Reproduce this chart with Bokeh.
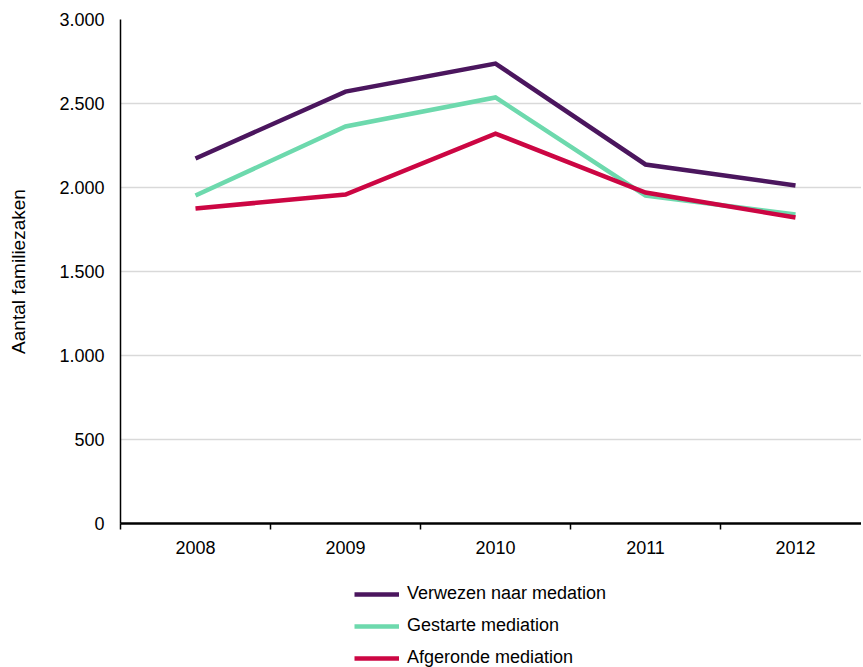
from bokeh.plotting import figure
from bokeh.layouts import column
from bokeh.models import Range1d, FixedTicker, Legend, LegendItem
from bokeh.embed import file_html
from bokeh.resources import INLINE

years = [2008, 2009, 2010, 2011, 2012]
verwezen = [2173, 2571, 2738, 2137, 2012]
gestarte = [1952, 2363, 2536, 1952, 1839]
afgeronde = [1875, 1958, 2321, 1970, 1821]
series_names = ["Verwezen naar medation", "Gestarte mediation", "Afgeronde mediation"]
colors = ["#4B165E", "#6DD9AD", "#CC0643"]
y_ticks = [0, 500, 1000, 1500, 2000, 2500, 3000]
y_tick_labels = ["0", "500", "1.000", "1.500", "2.000", "2.500", "3.000"]

FONT = "Liberation Sans"
all_series = [verwezen, gestarte, afgeronde]

p = figure(frame_width=741, frame_height=504, output_backend="svg", toolbar_location=None,
           x_range=Range1d(years[0] - 0.5, years[0] - 0.5 + 741 / 150),
           y_range=Range1d(0, 3000),
           min_border_left=120, min_border_right=0, min_border_top=19, min_border_bottom=52)
p.outline_line_color = None
p.background_fill_color = "white"
p.border_fill_color = "white"

for vals, c in zip(all_series, colors):
    p.line(years, vals, line_color=c, line_width=4.5, line_join="miter")

# x axis
xa = p.xaxis[0]
xa.ticker = FixedTicker(ticks=years, minor_ticks=[y - 0.5 for y in years] + [years[-1] + 0.5])
xa.major_tick_out = 0
xa.major_tick_in = 0
xa.minor_tick_out = 6
xa.minor_tick_in = 0
xa.minor_tick_line_color = "black"
xa.minor_tick_line_width = 1.5
xa.axis_line_color = "black"
xa.axis_line_width = 2.5
xa.major_label_text_font = FONT
xa.major_label_text_font_size = "18px"
xa.major_label_text_color = "black"
xa.major_label_standoff = 11
p.xgrid.grid_line_color = None

# y axis
ya = p.yaxis[0]
ya.ticker = FixedTicker(ticks=y_ticks)
ya.major_label_overrides = {t: l for t, l in zip(y_ticks, y_tick_labels)}
ya.major_tick_out = 0
ya.major_tick_in = 0
ya.minor_tick_out = 0
ya.minor_tick_in = 0
ya.axis_line_color = "black"
ya.axis_line_width = 1.5
ya.major_label_text_font = FONT
ya.major_label_text_font_size = "18px"
ya.major_label_text_color = "black"
ya.major_label_standoff = 16
ya.axis_label = "Aantal familiezaken"
ya.axis_label_text_font = FONT
ya.axis_label_text_font_size = "19px"
ya.axis_label_text_font_style = "normal"
ya.axis_label_text_color = "black"
ya.axis_label_standoff = 27
p.ygrid.grid_line_color = "#D9D9D9"
p.ygrid.grid_line_width = 1.5

# legend panel below the chart (its lines lie outside its visible range; only the legend shows)
lp = figure(width=861, height=93, output_backend="svg", toolbar_location=None,
            min_border=0, x_axis_type=None, y_axis_type=None,
            x_range=Range1d(0, 1), y_range=Range1d(0, 1))
lp.outline_line_color = None
lp.xgrid.grid_line_color = None
lp.ygrid.grid_line_color = None
legend_renderers = [lp.line(years, vals, line_color=c, line_width=4.5)
                    for vals, c in zip(all_series, colors)]

legend = Legend(items=[LegendItem(label=n, renderers=[r]) for n, r in zip(series_names, legend_renderers)],
                location=(234, 0), orientation="vertical")
legend.border_line_color = None
legend.background_fill_alpha = 0
legend.label_text_font = FONT
legend.label_text_font_size = "18px"
legend.label_text_color = "black"
legend.glyph_width = 45
legend.glyph_height = 20
legend.label_height = 20
legend.spacing = 11
legend.label_standoff = 8
legend.padding = 0
legend.margin = 0
lp.add_layout(legend, "center")

layout = column(p, lp, spacing=0)
open("out.html", "w").write(file_html(layout, INLINE))
